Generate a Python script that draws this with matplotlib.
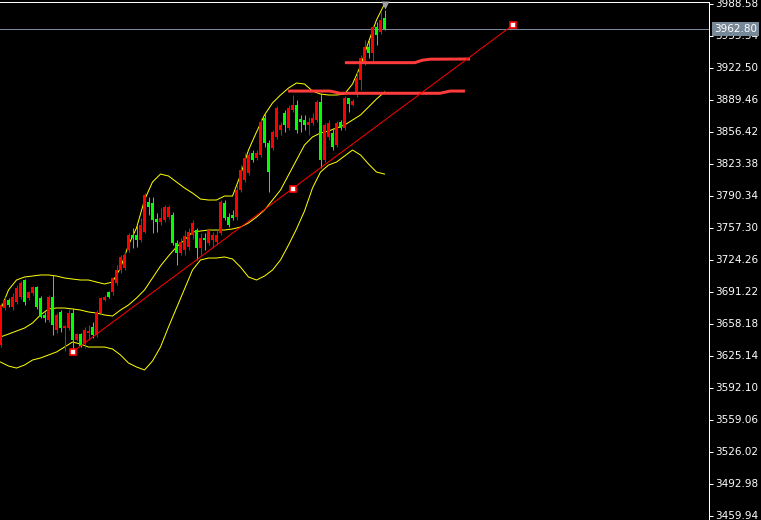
import matplotlib
matplotlib.use("Agg")
import matplotlib.pyplot as plt
import numpy as np
from matplotlib.transforms import blended_transform_factory

# ---- OHLC bars (oldest -> newest) ----
opens = [3636.5, 3674.7, 3683.0, 3675.7, 3680.9, 3686.0, 3703.6, 3685.0, 3690.2, 3696.4,
         3685.0, 3667.5, 3662.3, 3686.0, 3652.0, 3670.6, 3654.0, 3654.0, 3669.5, 3641.7,
         3647.8, 3638.6, 3648.9, 3655.1, 3646.8, 3669.5, 3683.0, 3691.2, 3691.2, 3700.5,
         3713.9, 3716.0, 3734.6, 3750.1, 3750.1, 3744.9, 3753.2, 3784.1, 3783.1, 3766.6,
         3763.5, 3765.6, 3768.6, 3770.7, 3741.8, 3731.5, 3734.6, 3737.7, 3750.1, 3755.2,
         3736.6, 3747.0, 3741.8, 3744.9, 3742.8, 3752.1, 3783.1, 3768.6, 3770.7, 3768.6,
         3796.5, 3806.9, 3814.1, 3834.7, 3829.6, 3832.7, 3870.9, 3845.0, 3839.9, 3851.3,
         3858.5, 3876.0, 3860.5, 3879.1, 3884.3, 3869.8, 3868.8, 3863.6, 3865.7, 3868.8,
         3887.4, 3827.5, 3851.3, 3855.4, 3843.0, 3866.7, 3860.5, 3891.5, 3884.3, 3896.7,
         3910.1, 3927.7, 3944.2, 3938.0, 3964.8, 3959.7, 3974.1]
highs = [3679.9, 3686.0, 3685.0, 3690.2, 3698.4, 3702.6, 3704.6, 3692.2, 3697.4, 3697.4,
         3687.1, 3670.6, 3688.1, 3708.8, 3669.5, 3672.6, 3657.1, 3673.7, 3674.7, 3648.9,
         3648.9, 3655.1, 3657.1, 3660.2, 3672.6, 3686.0, 3688.1, 3692.2, 3706.7, 3719.1,
         3729.4, 3732.5, 3752.1, 3757.3, 3760.4, 3767.6, 3793.4, 3789.3, 3789.3, 3772.8,
         3777.9, 3781.0, 3781.0, 3773.8, 3744.9, 3747.0, 3755.2, 3757.3, 3765.6, 3757.3,
         3752.1, 3752.1, 3757.3, 3753.2, 3755.2, 3786.2, 3786.2, 3772.8, 3775.9, 3801.7,
         3822.3, 3834.7, 3835.8, 3837.8, 3837.8, 3870.9, 3876.0, 3848.2, 3858.5, 3883.3,
         3866.7, 3879.1, 3884.3, 3894.6, 3889.5, 3874.0, 3874.0, 3871.9, 3876.0, 3889.5,
         3896.7, 3865.7, 3868.8, 3860.5, 3867.8, 3868.8, 3893.6, 3891.5, 3890.5, 3918.4,
         3935.9, 3951.4, 3951.4, 3966.9, 3970.0, 3980.3, 3982.4]
lows = [3634.4, 3672.6, 3675.7, 3672.6, 3678.8, 3684.0, 3677.8, 3683.0, 3688.1, 3673.7,
        3664.4, 3660.2, 3660.2, 3646.8, 3648.9, 3649.9, 3630.3, 3652.0, 3629.3, 3640.6,
        3634.4, 3633.4, 3641.7, 3643.7, 3644.8, 3668.5, 3681.9, 3685.0, 3688.1, 3698.4,
        3710.8, 3713.9, 3732.5, 3736.6, 3737.7, 3742.8, 3752.1, 3770.7, 3752.1, 3753.2,
        3760.4, 3763.5, 3766.6, 3739.7, 3719.1, 3729.4, 3729.4, 3734.6, 3745.9, 3724.3,
        3729.4, 3734.6, 3739.7, 3737.7, 3740.8, 3750.1, 3765.6, 3758.3, 3765.6, 3765.6,
        3794.5, 3804.8, 3812.0, 3825.4, 3827.5, 3830.6, 3840.9, 3794.5, 3837.8, 3849.2,
        3853.3, 3856.4, 3858.5, 3877.1, 3855.4, 3856.4, 3858.5, 3853.3, 3863.6, 3866.7,
        3819.2, 3825.4, 3848.2, 3837.8, 3840.9, 3858.5, 3858.5, 3877.1, 3883.3, 3892.6,
        3899.8, 3925.6, 3932.8, 3928.7, 3946.2, 3957.6, 3961.7]
closes = [3677.8, 3683.0, 3677.8, 3686.0, 3695.3, 3700.5, 3680.9, 3691.2, 3696.4, 3675.7,
          3665.4, 3664.4, 3686.0, 3657.1, 3667.5, 3654.0, 3656.1, 3669.5, 3641.7, 3647.8,
          3635.5, 3652.0, 3650.9, 3646.8, 3670.6, 3685.0, 3686.0, 3686.0, 3705.7, 3713.9,
          3727.4, 3729.4, 3750.1, 3747.0, 3744.9, 3760.4, 3791.4, 3779.0, 3765.6, 3763.5,
          3767.6, 3779.0, 3779.0, 3741.8, 3731.5, 3742.8, 3749.0, 3753.2, 3762.5, 3736.6,
          3747.0, 3744.9, 3755.2, 3750.1, 3750.1, 3784.1, 3767.6, 3760.4, 3767.6, 3796.5,
          3817.2, 3829.6, 3832.7, 3827.5, 3834.7, 3866.7, 3845.0, 3815.1, 3856.4, 3881.2,
          3863.6, 3863.6, 3881.2, 3884.3, 3858.5, 3866.7, 3863.6, 3866.7, 3870.9, 3887.4,
          3827.5, 3863.6, 3865.7, 3840.9, 3865.7, 3860.5, 3891.5, 3885.3, 3888.4, 3912.2,
          3932.8, 3944.2, 3938.0, 3964.8, 3956.6, 3972.1, 3962.8]

# ---- Bollinger bands, sampled every second bar ----
band_bars = list(range(0, 97, 2))
band_upper = [3672.6, 3693.3, 3703.6, 3706.7, 3707.7, 3708.8, 3708.8, 3707.7, 3705.7, 3704.6,
              3703.6, 3703.6, 3701.5, 3699.5, 3701.5, 3716.0, 3739.7, 3757.3, 3786.2, 3804.8,
              3813.0, 3811.0, 3804.8, 3798.6, 3793.4, 3787.2, 3786.2, 3786.2, 3790.3, 3790.3,
              3812.0, 3837.8, 3856.4, 3874.0, 3886.4, 3894.6, 3901.8, 3907.0, 3906.0, 3898.7,
              3895.6, 3894.6, 3894.6, 3895.6, 3906.0, 3924.6, 3949.3, 3972.1, 3988.6]
band_mid = [3644.8, 3647.8, 3650.9, 3654.0, 3659.2, 3667.5, 3673.7, 3674.7, 3674.7, 3673.7,
            3672.6, 3670.6, 3669.5, 3667.5, 3666.4, 3672.6, 3677.8, 3685.0, 3693.3, 3705.7,
            3718.1, 3728.4, 3737.7, 3744.9, 3753.2, 3754.2, 3755.2, 3755.2, 3755.2, 3756.3,
            3758.3, 3762.5, 3768.6, 3775.9, 3786.2, 3796.5, 3812.0, 3827.5, 3843.0, 3851.3,
            3855.4, 3857.4, 3860.5, 3863.6, 3868.8, 3874.0, 3882.2, 3890.5, 3897.7]
band_lower = [3618.9, 3614.8, 3612.7, 3615.8, 3621.0, 3623.1, 3626.2, 3629.3, 3634.4, 3639.6,
              3637.5, 3634.4, 3634.4, 3634.4, 3632.4, 3626.2, 3617.9, 3613.8, 3610.7, 3620.0,
              3634.4, 3655.1, 3674.7, 3694.3, 3713.9, 3724.3, 3726.3, 3726.3, 3727.4, 3725.3,
              3717.0, 3706.7, 3703.6, 3707.7, 3713.9, 3724.3, 3739.7, 3756.3, 3774.8, 3798.6,
              3815.1, 3822.3, 3825.4, 3831.6, 3837.8, 3832.7, 3823.4, 3815.1, 3813.0]

# ---- trend line anchors (bar index, price) ----
trend_bars = [18, 128]
trend_prices = [3629.3, 3966.6]

# ---- horizontal level lines ----
level_low_bars = [71.9, 82.4, 84.9, 109.9, 112.4, 116.1]
level_low_prices = [3898.7, 3898.7, 3896.4, 3896.4, 3898.7, 3898.7]
level_high_bars = [86.1, 103.6, 105.4, 107.4, 117.4]
level_high_prices = [3928.0, 3928.0, 3930.5, 3931.6, 3931.8]

last_price = 3962.80
price_labels = ["3459.94", "3492.98", "3526.02", "3559.06", "3592.10", "3625.14",
                "3658.18", "3691.22", "3724.26", "3757.30", "3790.34", "3823.38",
                "3856.42", "3889.46", "3922.50", "3955.54", "3988.58"]

# ---- figure ----
W, H = 761, 520
PX = 0.72  # one pixel in points at 100 dpi
fig = plt.figure(figsize=(W / 100, H / 100), dpi=100, facecolor="black")
ax = fig.add_axes([0, 0, 709 / W, 518 / H], facecolor="black")
ax.set_xlim(-0.125, 177.125)
ax.set_ylim(3455.81, 3990.65)

bars = np.arange(len(opens))
o = np.array(opens); c = np.array(closes)
hi = np.array(highs); lo = np.array(lows)
up = c >= o
colors = np.where(up, "#FF0000", "#00FF00")

# band lines
for band in (band_upper, band_mid, band_lower):
    ax.plot(band_bars, band, color="#FFFF00", lw=PX, zorder=2)

# wicks and bodies
ax.vlines(bars, lo, hi, colors=colors, lw=PX, zorder=3)
body_h = np.maximum(np.abs(c - o), 0.8)
ax.bar(bars, body_h, bottom=np.minimum(o, c), width=0.75, color=colors,
       linewidth=0, zorder=4)

# level lines
ax.plot(level_low_bars, level_low_prices, color="#FF3B3B", lw=3 * PX, zorder=5,
        solid_capstyle="butt")
ax.plot(level_high_bars, level_high_prices, color="#FF3B3B", lw=3 * PX, zorder=5,
        solid_capstyle="butt")

# trend line with its anchor / midpoint handles
ax.plot(trend_bars, trend_prices, color="#FF0000", lw=PX, zorder=5)
mid_bar = (trend_bars[0] + trend_bars[1]) / 2
mid_price = (trend_prices[0] + trend_prices[1]) / 2
ax.plot([trend_bars[0], mid_bar, trend_bars[1]],
        [trend_prices[0], mid_price, trend_prices[1]],
        ls="none", marker="s", ms=4, mfc="white", mec="#FF0000", mew=1.2, zorder=6)

# current price line
ax.axhline(last_price, color="#778899", lw=PX, zorder=1)

# chart-shift marker at the top
tr_top = blended_transform_factory(ax.transData, ax.transAxes)
ax.plot([bars[-1]], [0.9935], marker="v", ms=6, color="#A0A0A0", mec="none",
        transform=tr_top, clip_on=False, zorder=7)

# price scale on the right
ax.set_xticks([])
ax.set_yticks([float(v) for v in price_labels])
ax.set_yticklabels(price_labels, va="center")
ax.yaxis.tick_right()
ax.tick_params(axis="y", colors="white", length=3, width=PX, pad=1.5,
               labelsize=7.5)
for side in ("left", "bottom"):
    ax.spines[side].set_visible(False)
for side in ("top", "right"):
    ax.spines[side].set_color("white")
    ax.spines[side].set_linewidth(PX)

tr_right = blended_transform_factory(ax.transAxes, ax.transData)
ax.annotate(f"{last_price:.2f}", xy=(1, last_price), xycoords=tr_right,
            xytext=(3.6, 0), textcoords="offset points", ha="left", va="center",
            color="white", fontsize=7.5, annotation_clip=False, zorder=10,
            bbox=dict(boxstyle="square,pad=0.2", fc="#778899", ec="none"))

fig.savefig("out.png", dpi=100, facecolor="black")
